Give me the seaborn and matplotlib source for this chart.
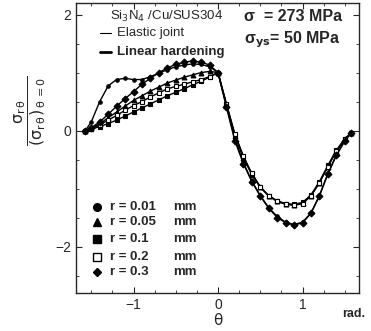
import numpy as np
import pandas as pd
import seaborn as sns
import matplotlib.pyplot as plt
from matplotlib.ticker import MultipleLocator

theta = [-1.57, -1.5, -1.4, -1.3, -1.2, -1.1, -1.0, -0.9, -0.8, -0.7, -0.6, -0.5,
         -0.4, -0.3, -0.2, -0.1, 0.0, 0.1, 0.2, 0.3, 0.4, 0.5, 0.6, 0.7, 0.8, 0.9,
         1.0, 1.1, 1.2, 1.3, 1.4, 1.5, 1.57]

# normalized shear stress
r001 = [0.0, 0.15, 0.5, 0.77, 0.88, 0.9, 0.88, 0.88, 0.93, 0.99, 1.05, 1.1, 1.13, 1.15, 1.14, 1.1, 1.0,
        0.42, -0.15, -0.55, -0.87, -1.12, -1.33, -1.48, -1.58, -1.62, -1.58, -1.42, -1.12, -0.74, -0.42, -0.18, -0.05]
r005 = [0.0, 0.04, 0.12, 0.22, 0.32, 0.42, 0.52, 0.6, 0.68, 0.75, 0.82, 0.87, 0.92, 0.96, 1.0, 1.02, 1.0,
        0.45, -0.1, -0.47, -0.76, -0.98, -1.13, -1.22, -1.27, -1.28, -1.25, -1.12, -0.9, -0.62, -0.35, -0.15, -0.05]
r01 = [0.0, 0.02, 0.07, 0.12, 0.18, 0.25, 0.32, 0.39, 0.46, 0.53, 0.6, 0.66, 0.72, 0.79, 0.85, 0.92, 1.0,
       0.44, -0.08, -0.45, -0.75, -0.97, -1.12, -1.21, -1.26, -1.27, -1.24, -1.11, -0.88, -0.6, -0.34, -0.14, -0.05]
r02 = [0.0, 0.03, 0.1, 0.18, 0.26, 0.35, 0.43, 0.5, 0.58, 0.65, 0.72, 0.76, 0.8, 0.84, 0.88, 0.93, 1.0,
       0.46, -0.06, -0.44, -0.74, -0.97, -1.13, -1.22, -1.27, -1.29, -1.26, -1.13, -0.9, -0.62, -0.36, -0.15, -0.05]
r03 = [0.0, 0.05, 0.15, 0.28, 0.42, 0.55, 0.67, 0.8, 0.9, 1.0, 1.08, 1.14, 1.18, 1.2, 1.18, 1.13, 1.0,
       0.4, -0.18, -0.57, -0.88, -1.13, -1.34, -1.5, -1.59, -1.63, -1.59, -1.43, -1.13, -0.75, -0.43, -0.18, -0.05]

labels = ['r = 0.01', 'r = 0.05', 'r = 0.1', 'r = 0.2', 'r = 0.3']
series = [r001, r005, r01, r02, r03]
markers = ['o', '^', 's', 's', 'D']
faces = ['black', 'black', 'black', 'white', 'black']
sizes = [2.5, 3.5, 3.5, 3.5, 3.5]

sns.set_style('ticks')
plt.rcParams['font.family'] = ['Liberation Sans', 'DejaVu Sans']
plt.rcParams['mathtext.fontset'] = 'custom'
plt.rcParams['mathtext.rm'] = 'DejaVu Sans'
plt.rcParams['mathtext.it'] = 'DejaVu Sans'
plt.rcParams['mathtext.bf'] = 'DejaVu Sans:bold'

fig = plt.figure(figsize=(3.71, 3.31), dpi=100)
ax = fig.add_axes([0.205, 0.115, 0.763, 0.876])

for lab, vals, m, fc, ms in zip(labels, series, markers, faces, sizes):
    df = pd.DataFrame({'theta': theta, 'tau': vals})
    sns.lineplot(data=df, x='theta', y='tau', ax=ax, color='black', lw=1.0,
                 marker=m, markersize=ms, markerfacecolor=fc, markeredgecolor='black',
                 markeredgewidth=0.8)

ax.set_xlim(-1.68, 1.67)
ax.set_ylim(-2.8, 2.2)
ax.xaxis.set_major_locator(MultipleLocator(1))
ax.xaxis.set_minor_locator(MultipleLocator(0.25))
ax.yaxis.set_major_locator(MultipleLocator(2))
ax.yaxis.set_minor_locator(MultipleLocator(0.5))
ax.tick_params(which='both', direction='in', top=True, right=True, labelsize=10)
ax.tick_params(which='major', length=4)
ax.tick_params(which='minor', length=2)
for s in ax.spines.values():
    s.set_linewidth(1.0)

ax.set_xlabel('θ', fontsize=11, labelpad=1, family='DejaVu Sans')
ax.set_ylabel(r'$\dfrac{\mathrm{σ_{r\,θ}}}{\mathrm{(σ_{r\,θ})_{\,θ\,=0}}}$', fontsize=11.5)
ax.yaxis.set_label_coords(-0.1, 0.63)
ax.text(0.94, -0.072, 'rad.', transform=ax.transAxes, fontsize=9, fontweight='bold',
        ha='left', va='center')

# annotations
ax.text(0.12, 0.952, r'Si$_3$N$_4$ /Cu/SUS304', transform=ax.transAxes, fontsize=9.5,
        ha='left', va='center')
ax.text(0.595, 0.952, 'σ  = 273 MPa', transform=ax.transAxes, fontsize=11.5,
        fontweight='bold', ha='left', va='center')
ax.text(0.595, 0.872, r'σ$_\mathbf{ys}$= 50 MPa', transform=ax.transAxes, fontsize=11.5,
        fontweight='bold', ha='left', va='center')

ax.plot([0.085, 0.125], [0.897, 0.897], transform=ax.transAxes, color='black', lw=0.8)
ax.text(0.145, 0.897, 'Elastic joint', transform=ax.transAxes, fontsize=9.5, ha='left', va='center')
ax.plot([0.085, 0.125], [0.831, 0.831], transform=ax.transAxes, color='black', lw=2)
ax.text(0.145, 0.831, 'Linear hardening', transform=ax.transAxes, fontsize=9.5,
        fontweight='bold', ha='left', va='center')

leg_y = [0.297, 0.245, 0.186, 0.124, 0.072]
for lab, m, fc, yy in zip(labels, markers, faces, leg_y):
    ax.plot([0.074], [yy], transform=ax.transAxes, marker=m, markersize=5.5 if m != 'D' else 4.5,
            markerfacecolor=fc, markeredgecolor='black', ls='none')
    ax.text(0.12, yy, lab, transform=ax.transAxes, fontsize=9.5, fontweight='bold',
            ha='left', va='center')
    ax.text(0.343, yy, 'mm', transform=ax.transAxes, fontsize=9.5, fontweight='bold',
            ha='left', va='center')

fig.savefig('out.png', dpi=100)
